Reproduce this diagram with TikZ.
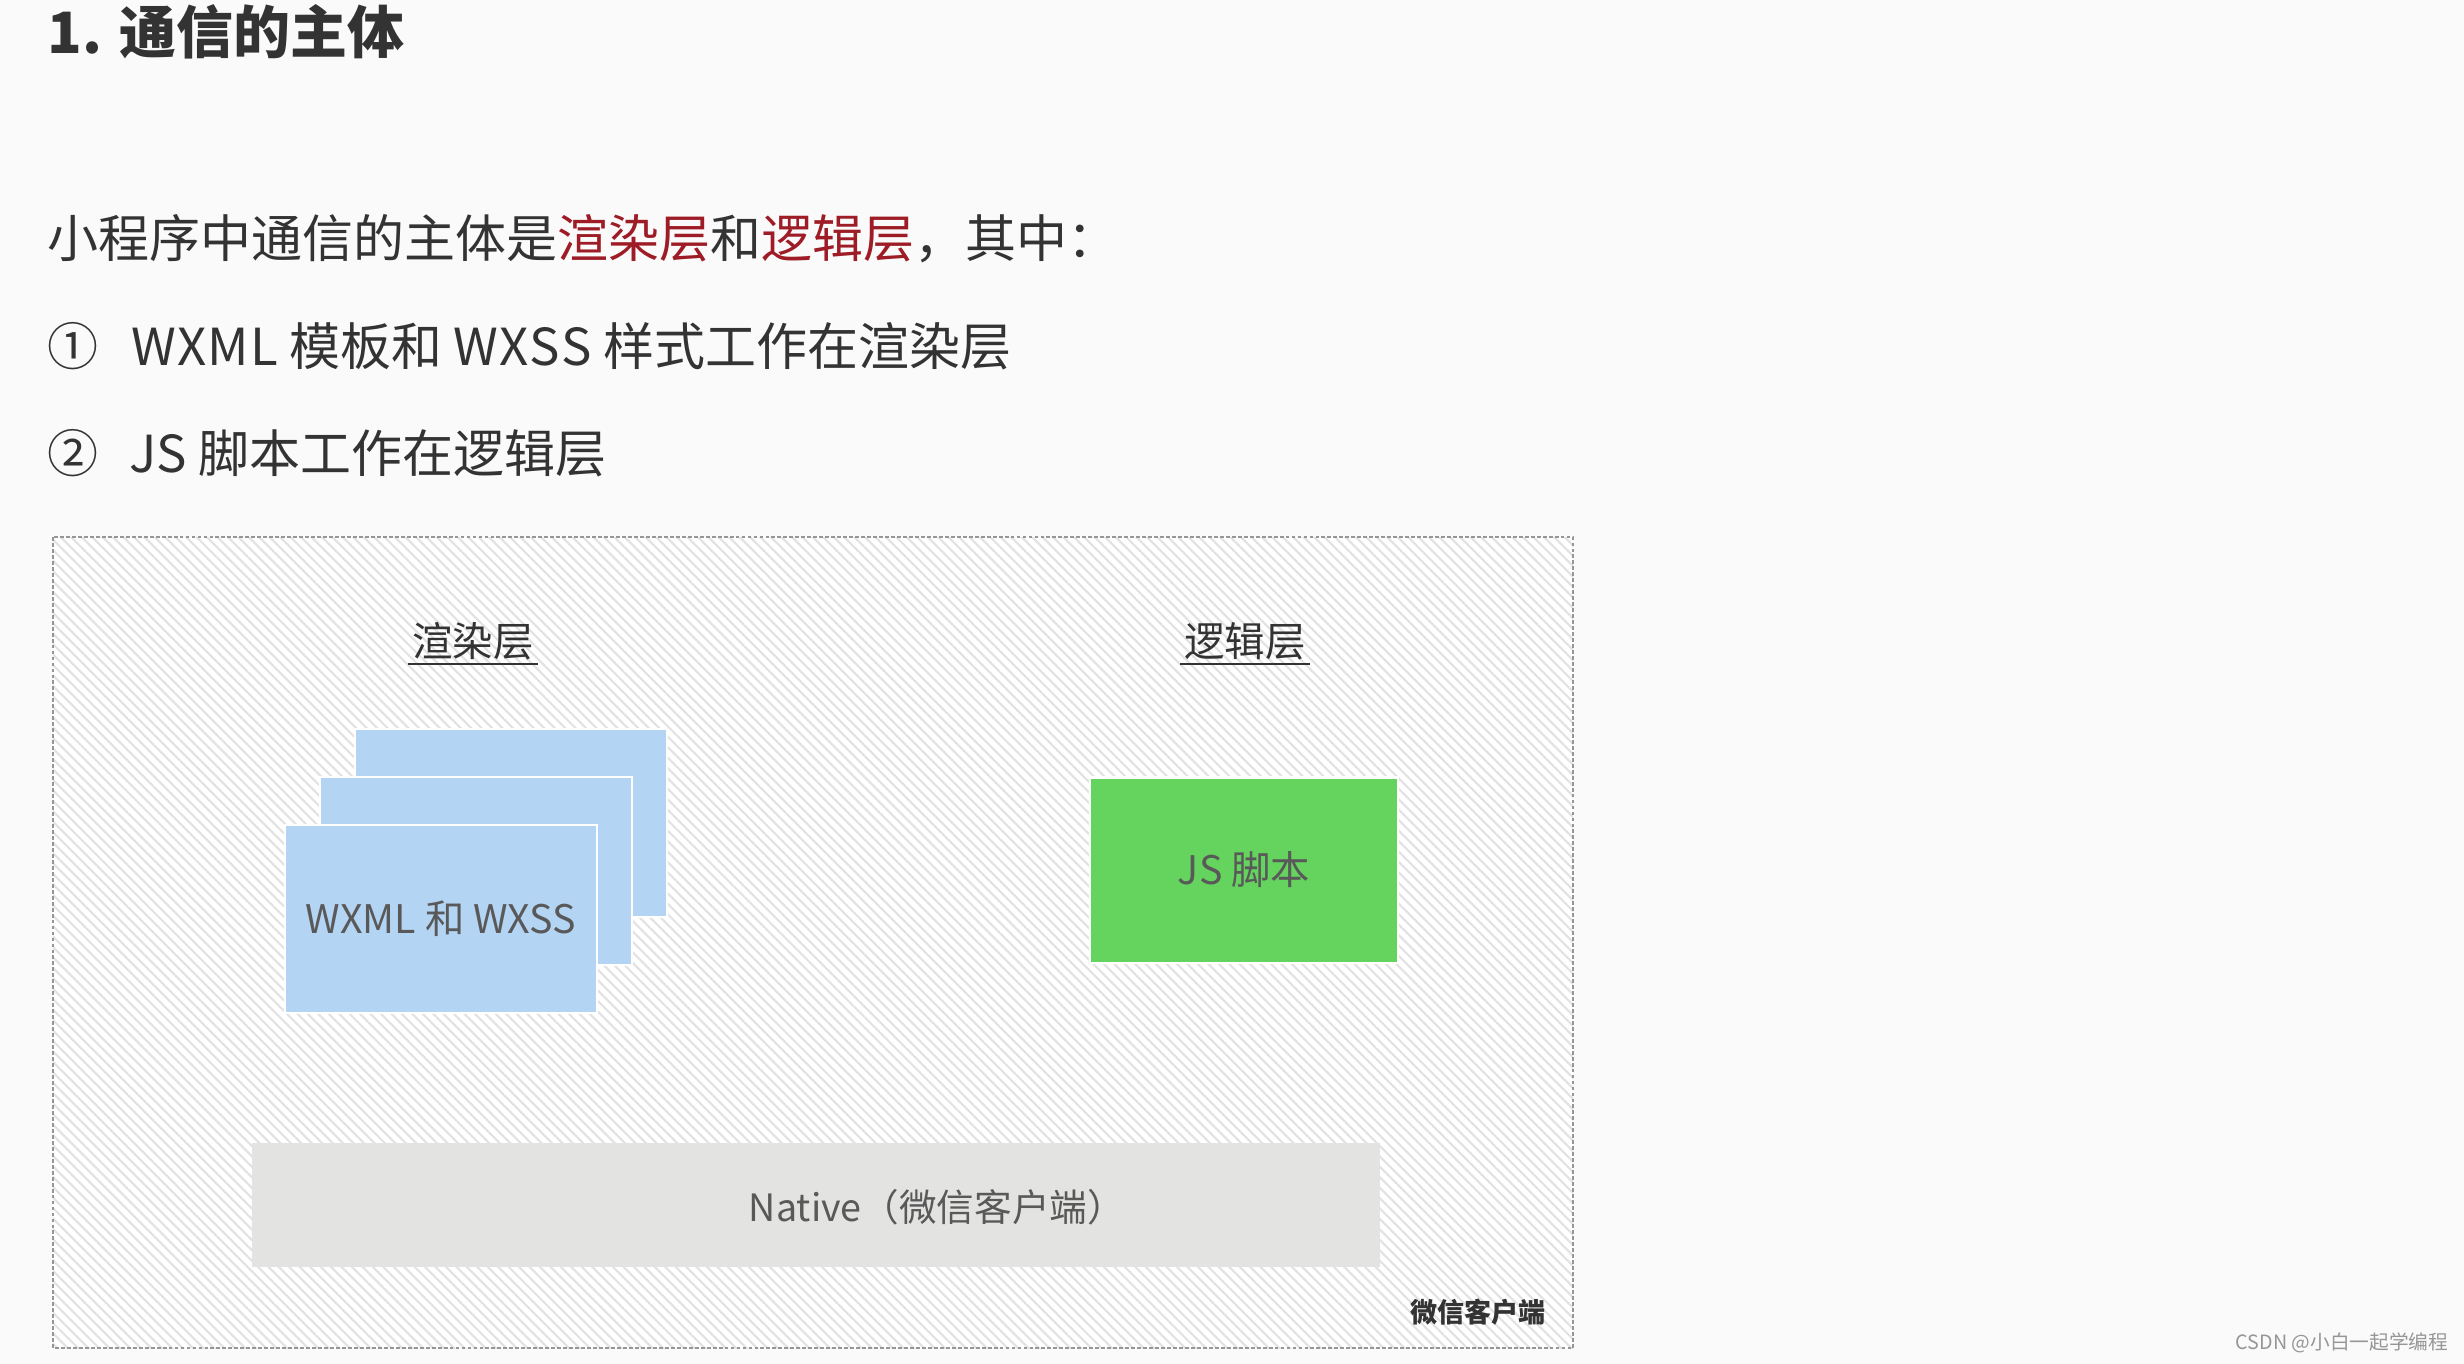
\documentclass[tikz,border=0pt]{standalone}
\usepackage{fontspec}
\setmainfont{Noto Sans CJK SC}
\usepackage{xcolor}
\usetikzlibrary{patterns.meta}
\definecolor{txt}{RGB}{51, 51, 51}
\definecolor{hl}{RGB}{158, 28, 38}
\definecolor{bl}{RGB}{180, 212, 244}
\definecolor{gn}{RGB}{100, 212, 94}
\definecolor{nv}{RGB}{227, 227, 226}
\definecolor{ht}{RGB}{226, 226, 226}
\definecolor{bg}{RGB}{250, 250, 250}
\definecolor{gr}{RGB}{150, 150, 150}
\tikzset{
    para/.style={anchor=west, text=txt, inner sep=0pt, font=\fontsize{14.5}{16}\selectfont},
    layer/.style={text=txt, inner sep=1pt, font=\fontsize{11.5}{13}\selectfont},
    tmpl/.style={fill=bl, draw=white, line width=0.6pt, minimum width=3.12cm, minimum height=1.88cm},
    inbox/.style={text=black!65, font=\fontsize{11.2}{13}\selectfont}
}

\begin{document}
\begin{tikzpicture}[x=0.01cm, y=-0.01cm]
        \useasboundingbox[fill=bg] (0,0) rectangle (2464,1364);
        % text above
        \node[para, font=\fontsize{16.2}{18}\selectfont\bfseries] (title) at (47,32) {1. 通信的主体};
        \node[para] (intro) at (47,239) {小程序中通信的主体是\textcolor{hl}{渲染层}和\textcolor{hl}{逻辑层}，其中：};
        \node[para] (item1) at (47,346) {①\hspace{0.65em}W\kern0.3pt X\kern0.3pt M\kern0.3pt L 模板和 W\kern0.3pt X\kern0.3pt S\kern0.3pt S 样式工作在渲染层};
        \node[para] (item2) at (47,453) {②\hspace{0.6em}JS 脚本工作在逻辑层};
        % client frame
        \fill[white] (53,537) rectangle (1573,1348);
        \fill[pattern={Lines[angle=-45, distance=2.1pt, line width=0.6pt]}, pattern color=ht] (53,537) rectangle (1573,1348);
        \draw[gr, line width=0.45pt, dash pattern=on 1.1pt off 0.6pt] (53,537) rectangle (1573,1348);
        \node[layer] (render) at (473,641) {渲染层};
        \node[layer] (logic) at (1245,641) {逻辑层};
        \draw[txt, line width=0.6pt] (render.south west) -- (render.south east);
        \draw[txt, line width=0.6pt] (logic.south west) -- (logic.south east);
        \node[tmpl] (page3) at (511,823) {};
        \node[tmpl] (page2) at (476,871) {};
        \node[tmpl, inbox] (page1) at (441,919) {WXML 和 WXSS};
        \node[fill=gn, draw=white, line width=0.6pt, minimum width=3.08cm, minimum height=1.85cm, inbox] (js) at (1244,870) {JS 脚本};
        \node[fill=nv, minimum width=11.27cm, minimum height=1.24cm] (native) at (816,1205) {};
        \node[inbox, font=\fontsize{10.7}{12}\selectfont] (nativetxt) at (937,1207) {Native（微信客户端）};
        \node[text=txt, font=\fontsize{7.7}{9}\selectfont\bfseries] (client) at (1478,1312) {微信客户端};
        % watermark
        \node[text=gr, font=\fontsize{5.6}{7}\selectfont] (mark) at (2342,1343) {CSDN @小白一起学编程};
    \end{tikzpicture}
\end{document}
